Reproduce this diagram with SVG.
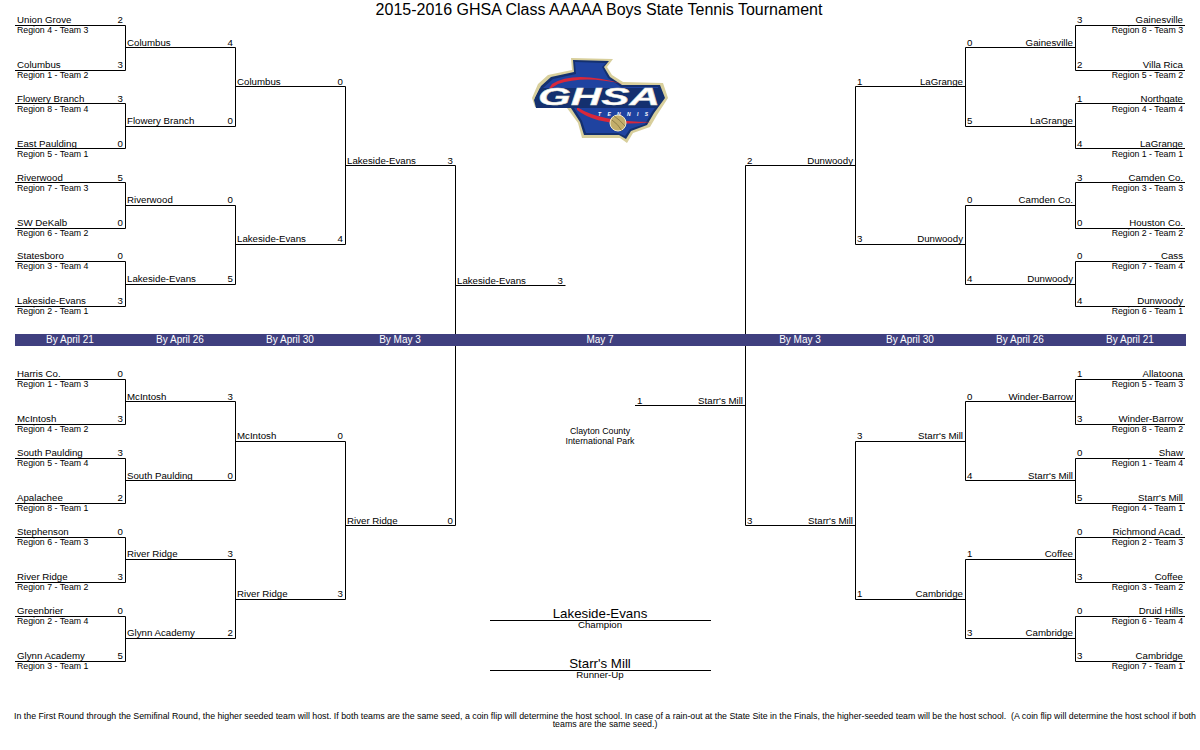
<svg xmlns="http://www.w3.org/2000/svg" width="1200" height="750" viewBox="0 0 1200 750">
<style>
text{font-family:"Liberation Sans",Arial,sans-serif;font-size:9.7px;fill:#000}
.e{text-anchor:end}.m{text-anchor:middle}
.b{fill:#fff;text-anchor:middle;font-size:10px}
.r{font-size:8.75px}
.big{font-size:13.3px;text-anchor:middle}
.s{font-size:8.8px;text-anchor:middle;white-space:pre}
#connectors path{fill:none;stroke:#000;stroke-width:1}
</style>
<rect width="1200" height="750" fill="#fff"/>
<text x="599" y="15" class="m" style="font-size:16px">2015-2016 GHSA Class AAAAA Boys State Tennis Tournament</text>
<g id="logo">
<path d="M571 58L613 59L607 67L612 75L623 82L663 83L668 98L657 115L650 127L633 133L627 143L620 138L582 138L578 123L567 108L535 107L532 98L538 84L548 75L572 70Z" fill="#d8cf9c"/>
<path d="M573 60L609 61L604 67L610 77L622 85L660 85L665 98L654 113L647 125L631 131L626 139L619 135L584 135L580 122L569 105L537 105L535 98L541 86L551 77L574 72Z" fill="#14306f"/>
<path d="M575 62L606 63L602 67L608 78L621 87L658 87L662 98L652 112L645 124L630 129L625 136L618 133L586 133L582 121L571 103L539 103L538 98L543 88L553 79L576 74Z" fill="#1f43a0"/>
<path d="M552 84Q574 70 623 84Q584 75 558 84Q552 88 548 90Z" fill="#d9283a"/>
<path d="M577 107Q600 122 651 122Q600 128 577 110Z" fill="#d9283a"/>
<path d="M540 88H660L664 98L655 108H536L534 100Z" fill="#14306f"/>
<text x="599" y="105" class="m" style="font-size:24px;font-weight:bold;font-style:italic;fill:#fff;stroke:#e6e3d0;stroke-width:.4" textLength="122" lengthAdjust="spacingAndGlyphs">GHSA</text>
<text x="623" y="115.500" class="m" style="font-size:5px;font-weight:bold;font-style:italic;fill:#fff" textLength="50" lengthAdjust="spacing">TENNIS</text>
<circle cx="618" cy="123" r="8" fill="#c3ae6b" stroke="#f2ecc9"/>
<path d="M612 120Q618 124 622 131M614 116Q620 120 625 126" fill="none" stroke="#7a6a3a" stroke-width=".7"/>
</g>
<g id="connectors">
<path d="M15 25.500H125.500V70.500H15M15 103.500H125.500V148.500H15M15 182.500H125.500V228.500H15M15 261.500H125.500V306.500H15"/>
<path d="M125.500 47.500H235.500V126.500H125.500M125.500 205.500H235.500V284.500H125.500M235.500 86.500H345.500V244.500H235.500M345.500 165.500H455.500V525.500H345.500M455.500 285.500H565.500"/>
<path d="M15 379.500H125.500V424.500H15M15 458.500H125.500V503.500H15M15 537.500H125.500V582.500H15M15 616.500H125.500V661.500H15"/>
<path d="M125.500 401.500H235.500V480.500H125.500M125.500 559.500H235.500V638.500H125.500M235.500 441.500H345.500V599.500H235.500"/>
<path d="M1185 25.500H1075.500V70.500H1185M1185 103.500H1075.500V148.500H1185M1185 182.500H1075.500V228.500H1185M1185 261.500H1075.500V306.500H1185"/>
<path d="M1075.500 47.500H965.500V126.500H1075.500M1075.500 205.500H965.500V284.500H1075.500M965.500 86.500H855.500V244.500H965.500M855.500 165.500H745.500V525.500H855.500M745.500 405.500H635"/>
<path d="M1185 379.500H1075.500V424.500H1185M1185 458.500H1075.500V503.500H1185M1185 537.500H1075.500V582.500H1185M1185 616.500H1075.500V661.500H1185"/>
<path d="M1075.500 401.500H965.500V480.500H1075.500M1075.500 559.500H965.500V638.500H1075.500M965.500 441.500H855.500V599.500H965.500"/>
<path d="M490 620.500H711M490 670.500H711"/>
</g>
<g id="band">
<rect x="15" y="334" width="1171" height="12" fill="#3f3f7f"/>
<text x="70" y="343" class="b">By April 21</text><text x="180" y="343" class="b">By April 26</text><text x="290" y="343" class="b">By April 30</text><text x="400" y="343" class="b">By May 3</text><text x="600" y="343" class="b">May 7</text><text x="800" y="343" class="b">By May 3</text><text x="910" y="343" class="b">By April 30</text><text x="1020" y="343" class="b">By April 26</text><text x="1130" y="343" class="b">By April 21</text>
</g>
<g id="left-top">
<text x="17" y="23">Union Grove</text><text x="123" y="23" class="e">2</text><text x="17" y="33" class="r">Region 4 - Team 3</text>
<text x="17" y="68">Columbus</text><text x="123" y="68" class="e">3</text><text x="17" y="78" class="r">Region 1 - Team 2</text>
<text x="17" y="102">Flowery Branch</text><text x="123" y="102" class="e">3</text><text x="17" y="112" class="r">Region 8 - Team 4</text>
<text x="17" y="147">East Paulding</text><text x="123" y="147" class="e">0</text><text x="17" y="157" class="r">Region 5 - Team 1</text>
<text x="17" y="181">Riverwood</text><text x="123" y="181" class="e">5</text><text x="17" y="191" class="r">Region 7 - Team 3</text>
<text x="17" y="226">SW DeKalb</text><text x="123" y="226" class="e">0</text><text x="17" y="236" class="r">Region 6 - Team 2</text>
<text x="17" y="259">Statesboro</text><text x="123" y="259" class="e">0</text><text x="17" y="269" class="r">Region 3 - Team 4</text>
<text x="17" y="304">Lakeside-Evans</text><text x="123" y="304" class="e">3</text><text x="17" y="314" class="r">Region 2 - Team 1</text>
<text x="127" y="46">Columbus</text><text x="233" y="46" class="e">4</text>
<text x="127" y="124">Flowery Branch</text><text x="233" y="124" class="e">0</text>
<text x="127" y="203">Riverwood</text><text x="233" y="203" class="e">0</text>
<text x="127" y="282">Lakeside-Evans</text><text x="233" y="282" class="e">5</text>
<text x="237" y="85">Columbus</text><text x="343" y="85" class="e">0</text>
<text x="237" y="242">Lakeside-Evans</text><text x="343" y="242" class="e">4</text>
<text x="347" y="164">Lakeside-Evans</text><text x="453" y="164" class="e">3</text>
<text x="457" y="284">Lakeside-Evans</text><text x="563" y="284" class="e">3</text>
</g>
<g id="left-bottom">
<text x="17" y="377">Harris Co.</text><text x="123" y="377" class="e">0</text><text x="17" y="387" class="r">Region 1 - Team 3</text>
<text x="17" y="422">McIntosh</text><text x="123" y="422" class="e">3</text><text x="17" y="432" class="r">Region 4 - Team 2</text>
<text x="17" y="456">South Paulding</text><text x="123" y="456" class="e">3</text><text x="17" y="466" class="r">Region 5 - Team 4</text>
<text x="17" y="501">Apalachee</text><text x="123" y="501" class="e">2</text><text x="17" y="511" class="r">Region 8 - Team 1</text>
<text x="17" y="535">Stephenson</text><text x="123" y="535" class="e">0</text><text x="17" y="545" class="r">Region 6 - Team 3</text>
<text x="17" y="580">River Ridge</text><text x="123" y="580" class="e">3</text><text x="17" y="590" class="r">Region 7 - Team 2</text>
<text x="17" y="614">Greenbrier</text><text x="123" y="614" class="e">0</text><text x="17" y="624" class="r">Region 2 - Team 4</text>
<text x="17" y="659">Glynn Academy</text><text x="123" y="659" class="e">5</text><text x="17" y="669" class="r">Region 3 - Team 1</text>
<text x="127" y="400">McIntosh</text><text x="233" y="400" class="e">3</text>
<text x="127" y="479">South Paulding</text><text x="233" y="479" class="e">0</text>
<text x="127" y="557">River Ridge</text><text x="233" y="557" class="e">3</text>
<text x="127" y="636">Glynn Academy</text><text x="233" y="636" class="e">2</text>
<text x="237" y="439">McIntosh</text><text x="343" y="439" class="e">0</text>
<text x="237" y="597">River Ridge</text><text x="343" y="597" class="e">3</text>
<text x="347" y="524">River Ridge</text><text x="453" y="524" class="e">0</text>
</g>
<g id="right-top">
<text x="1183" y="23" class="e">Gainesville</text><text x="1077" y="23">3</text><text x="1183" y="33" class="r e">Region 8 - Team 3</text>
<text x="1183" y="68" class="e">Villa Rica</text><text x="1077" y="68">2</text><text x="1183" y="78" class="r e">Region 5 - Team 2</text>
<text x="1183" y="102" class="e">Northgate</text><text x="1077" y="102">1</text><text x="1183" y="112" class="r e">Region 4 - Team 4</text>
<text x="1183" y="147" class="e">LaGrange</text><text x="1077" y="147">4</text><text x="1183" y="157" class="r e">Region 1 - Team 1</text>
<text x="1183" y="181" class="e">Camden Co.</text><text x="1077" y="181">3</text><text x="1183" y="191" class="r e">Region 3 - Team 3</text>
<text x="1183" y="226" class="e">Houston Co.</text><text x="1077" y="226">0</text><text x="1183" y="236" class="r e">Region 2 - Team 2</text>
<text x="1183" y="259" class="e">Cass</text><text x="1077" y="259">0</text><text x="1183" y="269" class="r e">Region 7 - Team 4</text>
<text x="1183" y="304" class="e">Dunwoody</text><text x="1077" y="304">4</text><text x="1183" y="314" class="r e">Region 6 - Team 1</text>
<text x="1073" y="46" class="e">Gainesville</text><text x="967" y="46">0</text>
<text x="1073" y="124" class="e">LaGrange</text><text x="967" y="124">5</text>
<text x="1073" y="203" class="e">Camden Co.</text><text x="967" y="203">0</text>
<text x="1073" y="282" class="e">Dunwoody</text><text x="967" y="282">4</text>
<text x="963" y="85" class="e">LaGrange</text><text x="857" y="85">1</text>
<text x="963" y="242" class="e">Dunwoody</text><text x="857" y="242">3</text>
<text x="853" y="164" class="e">Dunwoody</text><text x="747" y="164">2</text>
<text x="743" y="404" class="e">Starr's Mill</text><text x="637" y="404">1</text>
</g>
<g id="right-bottom">
<text x="1183" y="377" class="e">Allatoona</text><text x="1077" y="377">1</text><text x="1183" y="387" class="r e">Region 5 - Team 3</text>
<text x="1183" y="422" class="e">Winder-Barrow</text><text x="1077" y="422">3</text><text x="1183" y="432" class="r e">Region 8 - Team 2</text>
<text x="1183" y="456" class="e">Shaw</text><text x="1077" y="456">0</text><text x="1183" y="466" class="r e">Region 1 - Team 4</text>
<text x="1183" y="501" class="e">Starr's Mill</text><text x="1077" y="501">5</text><text x="1183" y="511" class="r e">Region 4 - Team 1</text>
<text x="1183" y="535" class="e">Richmond Acad.</text><text x="1077" y="535">0</text><text x="1183" y="545" class="r e">Region 2 - Team 3</text>
<text x="1183" y="580" class="e">Coffee</text><text x="1077" y="580">3</text><text x="1183" y="590" class="r e">Region 3 - Team 2</text>
<text x="1183" y="614" class="e">Druid Hills</text><text x="1077" y="614">0</text><text x="1183" y="624" class="r e">Region 6 - Team 4</text>
<text x="1183" y="659" class="e">Cambridge</text><text x="1077" y="659">3</text><text x="1183" y="669" class="r e">Region 7 - Team 1</text>
<text x="1073" y="400" class="e">Winder-Barrow</text><text x="967" y="400">0</text>
<text x="1073" y="479" class="e">Starr's Mill</text><text x="967" y="479">4</text>
<text x="1073" y="557" class="e">Coffee</text><text x="967" y="557">1</text>
<text x="1073" y="636" class="e">Cambridge</text><text x="967" y="636">3</text>
<text x="963" y="439" class="e">Starr's Mill</text><text x="857" y="439">3</text>
<text x="963" y="597" class="e">Cambridge</text><text x="857" y="597">1</text>
<text x="853" y="524" class="e">Starr's Mill</text><text x="747" y="524">3</text>
</g>
<g id="center">
<text x="600" y="434" class="s">Clayton County</text>
<text x="600" y="444" class="s">International Park</text>
<text x="600" y="618" class="big">Lakeside-Evans</text>
<text x="600" y="628" class="m">Champion</text>
<text x="600" y="668" class="big">Starr's Mill</text>
<text x="600" y="678" class="m">Runner-Up</text>
<text x="605" y="719" class="s">In the First Round through the Semifinal Round, the higher seeded team will host. If both teams are the same seed, a coin flip will determine the host school. In case of a rain-out at the State Site in the Finals, the higher-seeded team will be the host school.  (A coin flip will determine the host school if both</text>
<text x="605" y="727" class="s">teams are the same seed.)</text>
</g>
</svg>
